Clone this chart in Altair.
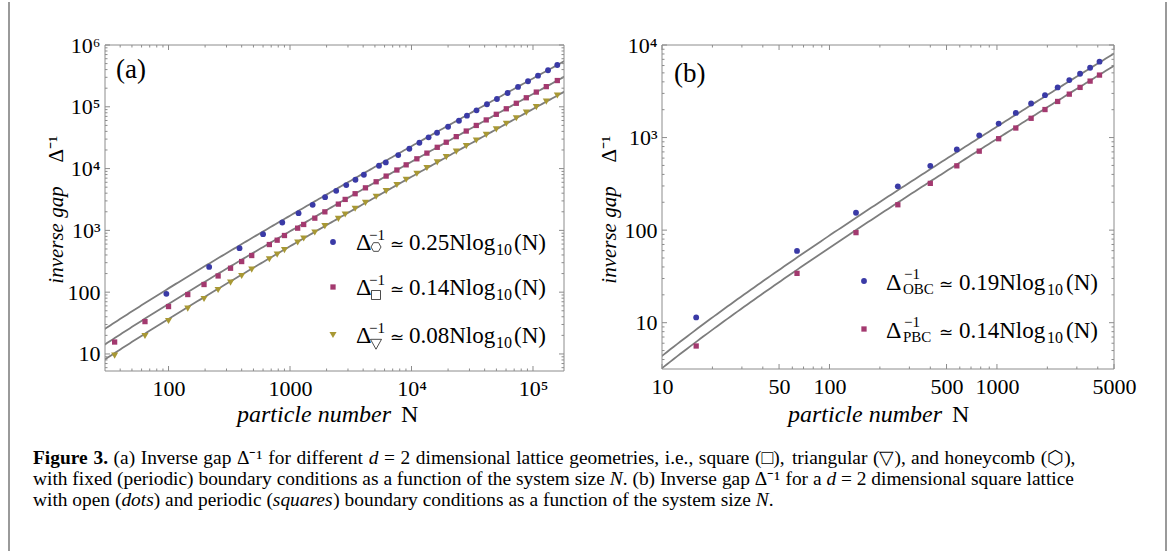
import altair as alt
import pandas as pd

FONT = "Liberation Serif"
FIT_GRAY = "#7d7d7d"
FRAME_GRAY = "#8c8c8c"
BORDER_GRAY = "#9a9a9a"
BLUE = "#3a3aa6"
MAGENTA = "#a3396f"
GOLD = "#a89834"

# ---------------- panel (a): d = 2 lattices, periodic boundaries ----------------
hex_N = [96, 216, 384, 600, 864, 1176, 1536, 1944, 2400, 2904, 3456, 4056, 5400,
         6144, 7776, 9600, 11616, 13824, 16224, 20000, 24576, 28600, 34300, 41800,
         50500, 61800, 75300, 91000, 110000, 133000, 158500]
hex_gap = [94, 256, 515, 867, 1343, 1900, 2590, 3450, 4365, 5400, 6600, 7950, 11100,
           12600, 16550, 20950, 26200, 32050, 38050, 47600, 59500, 71800, 87700, 109800,
           133800, 167300, 209600, 258800, 319000, 390000, 475000]

sq_N = [36, 64, 100, 144, 196, 256, 324, 400, 484, 676, 784, 900, 1156, 1296, 1600,
        1936, 2500, 2845, 3435, 4178, 5117, 6185, 7580, 9040, 11070, 13390, 16290,
        19320, 23360, 28230, 34140, 41230, 49890, 60310, 72900, 88100, 106500, 128700,
        158600]
sq_gap = [15.6, 33.4, 58.5, 91.5, 133, 183, 244, 313, 392, 590, 694, 826, 1086, 1246,
          1577, 1995, 2660, 3170, 3920, 4880, 6120, 7560, 9480, 11500, 14400, 17800,
          22100, 26700, 32900, 40500, 49900, 61300, 75600, 92900, 114000, 140000,
          173000, 212000, 266000]

tri_N = sq_N
tri_gap = [9.4, 19.5, 34.1, 54.2, 77.6, 108.6, 143, 183, 232, 341, 406, 478, 637, 739,
           925, 1170, 1535, 1810, 2240, 2790, 3500, 4320, 5420, 6590, 8250, 10200,
           12600, 15300, 18800, 23100, 28500, 35100, 43200, 53100, 65300, 80300, 98600,
           121000, 152000]

fit_a = [0.25, 0.14, 0.08]

# ---------------- panel (b): square lattice, open vs periodic ----------------
bc_N = [16, 64, 144, 256, 400, 576, 784, 1024, 1296, 1600, 1936, 2304, 2704, 3136,
        3600, 4096]
obc_gap = [11.4, 59.6, 154, 297, 495, 745, 1057, 1415, 1846, 2333, 2871, 3483, 4179,
           4890, 5683, 6602]
pbc_gap = [5.6, 34.1, 94, 188, 320, 495, 713, 972, 1268, 1615, 2008, 2455, 2945, 3483,
           4073, 4732]

fit_b = [0.19, 0.14]

# ---------------- axes ----------------
a_xdom, a_ydom = [30, 180000], [5.3, 1e6]
a_xticks = [100, 1000, 10000, 100000]
a_xlabels = ["100", "1000", "10⁴", "10⁵"]
a_yticks = [10, 100, 1000, 10000, 100000, 1000000]
a_ylabels = ["10", "100", "10³", "10⁴", "10⁵", "10⁶"]

b_xdom, b_ydom = [10, 5000], [3.16, 10000]
b_xticks = [10, 50, 100, 500, 1000, 5000]
b_xlabels = ["10", "50", "100", "500", "1000", "5000"]
b_yticks = [10, 100, 1000, 10000]
b_ylabels = ["10", "100", "10³", "10⁴"]

A_W, A_H = 459, 326
B_W, B_H = 452, 324

ONE = pd.DataFrame({"k": [0]})

HEX = "M1,0L0.5,0.866L-0.5,0.866L-1,0L-0.5,-0.866L0.5,-0.866Z"
BOX = "M-1,-1L1,-1L1,1L-1,1Z"
TRI = "M-1,-0.85L1,-0.85L0,0.95Z"


def label_expr(vals, labels):
    parts = [f"abs(datum.value - {v}) < {v * 1e-6} ? '{s}'" for v, s in zip(vals, labels)]
    return " : ".join(parts) + " : ''"


def minor_ticks(dom, majors):
    out = []
    for e in range(-1, 8):
        for m in range(1, 10):
            v = m * 10 ** e
            if dom[0] < v < dom[1] and all(abs(v - t) > 1e-9 * t for t in majors):
                out.append(v)
    return out


def log_scale(dom):
    return alt.Scale(type="log", domain=dom, nice=False)


def text(t, x, y, size, align="left", italic=False, angle=0, baseline="alphabetic",
         weight="normal", font=FONT):
    kw = dict(text=t, font=font, fontSize=size, align=align, baseline=baseline,
              color="black")
    if italic:
        kw["fontStyle"] = "italic"
    if angle:
        kw["angle"] = angle
    if weight != "normal":
        kw["fontWeight"] = weight
    return alt.Chart(ONE).mark_text(**kw).encode(x=alt.value(x), y=alt.value(y))


def glyph(path, x, y, size):
    return alt.Chart(ONE).mark_point(shape=path, filled=False, stroke="black",
                                     strokeWidth=0.7, size=size, opacity=1).encode(
        x=alt.value(x), y=alt.value(y))


def marker(shape, color, size, x, y):
    return alt.Chart(ONE).mark_point(shape=shape, filled=True, color=color, size=size,
                                     opacity=1).encode(x=alt.value(x), y=alt.value(y))


def build_panel(W, H, xdom, ydom, xt, xl, yt, yl, series, fits, seq, extra):
    xs, ys = log_scale(xdom), log_scale(ydom)
    common = dict(title=None, ticks=False, domain=False, grid=False, labelFont=FONT,
                  labelFontSize=22, labelColor="black", labelFlush=False,
                  labelOverlap=False)
    xax = alt.Axis(values=xt, labelExpr=label_expr(xt, xl), labelPadding=7, **common)
    yax = alt.Axis(values=yt, labelExpr=label_expr(yt, yl), labelPadding=5, **common)
    layers = []
    # fitted scaling curves c * N * ln N
    for c in fits:
        layers.append(
            alt.Chart(alt.sequence(seq[0], seq[1], 0.02, as_="t"))
            .transform_calculate(N="pow(10, datum.t)")
            .transform_calculate(gap=f"{c} * datum.N * log(datum.N)")
            .mark_line(color=FIT_GRAY, strokeWidth=1.8, clip=True)
            .encode(x=alt.X("N:Q", scale=xs, axis=xax),
                    y=alt.Y("gap:Q", scale=ys, axis=yax)))
    # numerical data
    for Ns, gaps, color, shape, size in series:
        df = pd.DataFrame({"N": Ns, "gap": gaps})
        layers.append(
            alt.Chart(df).mark_point(filled=True, shape=shape, size=size, color=color,
                                     opacity=1)
            .encode(x=alt.X("N:Q", scale=xs, axis=xax),
                    y=alt.Y("gap:Q", scale=ys, axis=yax)))
    # inward frame ticks on all four sides
    for vals, L in ((xt, 5), (minor_ticks(xdom, xt), 2.5)):
        d = pd.DataFrame({"v": vals})
        xe = alt.X("v:Q", scale=xs, axis=xax)
        layers.append(alt.Chart(d).mark_rule(color=FRAME_GRAY, strokeWidth=1)
                      .encode(x=xe, y=alt.value(H), y2=alt.value(H - L)))
        layers.append(alt.Chart(d).mark_rule(color=FRAME_GRAY, strokeWidth=1)
                      .encode(x=xe, y=alt.value(0), y2=alt.value(L)))
    for vals, L in ((yt, 5), (minor_ticks(ydom, yt), 2.5)):
        d = pd.DataFrame({"v": vals})
        ye = alt.Y("v:Q", scale=ys, axis=yax)
        layers.append(alt.Chart(d).mark_rule(color=FRAME_GRAY, strokeWidth=1)
                      .encode(y=ye, x=alt.value(0), x2=alt.value(L)))
        layers.append(alt.Chart(d).mark_rule(color=FRAME_GRAY, strokeWidth=1)
                      .encode(y=ye, x=alt.value(W), x2=alt.value(W - L)))
    # frame
    layers.append(alt.Chart(ONE).mark_rect(fillOpacity=0, stroke=FRAME_GRAY,
                                           strokeWidth=1)
                  .encode(x=alt.value(0), x2=alt.value(W), y=alt.value(0),
                          y2=alt.value(H)))
    layers.extend(extra)
    return alt.layer(*layers).properties(width=W, height=H)


def axis_titles(ybase, xright, xleft):
    return [
        text("inverse gap", ybase, 190, 21, align="center", italic=True, angle=270),
        text("Δ⁻¹", ybase, 104, 21, align="center", angle=270),
        text("particle number", xright, 377, 24, align="right", italic=True),
        text("N", xleft, 377, 24),
    ]


# ----- panel (a) annotations -----
a_extra = [text("(a)", 11, 33, 27)] + axis_titles(-42, 286, 296)
a_rows = [("circle", BLUE, 34, 197, HEX, 100, 202, "0.25"),
          ("square", MAGENTA, 28, 242, BOX, 81, 250, "0.14"),
          ("triangle-down", GOLD, 50, 290, TRI, 121, 299, "0.08")]
for shp, col, sz, my, sub, subsz, suby, coef in a_rows:
    b = my + 8
    a_extra += [marker(shp, col, sz, 228, my),
                text("Δ", 251, b, 24),
                text("−1", 264, b - 10, 15),
                glyph(sub, 271, suby, subsz),
                text("≃", 292, b, 17, align="center"),
                text(f"{coef}Nlog", 304, b, 23),
                text("10", 391, b + 5, 16),
                text("(N)", 409, b, 23)]

# ----- panel (b) annotations -----
b_extra = [text("(b)", 12, 37, 27)] + axis_titles(-46, 280, 290)
b_rows = [("circle", BLUE, 34, 236, "OBC", "0.19"),
          ("square", MAGENTA, 28, 284, "PBC", "0.14")]
for shp, col, sz, my, sub, coef in b_rows:
    b = my + 9
    b_extra += [marker(shp, col, sz, 202, my),
                text("Δ", 224, b, 24),
                text("−1", 242, b - 11, 15),
                text(sub, 241, b + 4, 15),
                text("≃", 284, b, 17, align="center"),
                text(f"{coef}Nlog", 297, b, 23),
                text("10", 385, b + 5, 16),
                text("(N)", 404, b, 23)]

panel_a = build_panel(
    A_W, A_H, a_xdom, a_ydom, a_xticks, a_xlabels, a_yticks, a_ylabels,
    [(hex_N, hex_gap, BLUE, "circle", 34),
     (sq_N, sq_gap, MAGENTA, "square", 28),
     (tri_N, tri_gap, GOLD, "triangle-down", 50)],
    fit_a, (1.40, 5.35), a_extra)

panel_b = build_panel(
    B_W, B_H, b_xdom, b_ydom, b_xticks, b_xlabels, b_yticks, b_ylabels,
    [(bc_N, obc_gap, BLUE, "circle", 34),
     (bc_N, pbc_gap, MAGENTA, "square", 28)],
    fit_b, (0.95, 3.75), b_extra)

# ---------------- caption ----------------
caption_lines = [
    "#Figure# #3.# (a) Inverse gap Δ⁻¹ for different *d* = 2 dimensional lattice "
    "geometries, i.e., square (□), triangular (▽), and honeycomb (⬡),",
    "with fixed (periodic) boundary conditions as a function of the system size *N*. "
    "(b) Inverse gap Δ⁻¹ for a *d* = 2 dimensional square lattice",
    "with open (*dots*) and periodic (*squares*) boundary conditions as a function of "
    "the system size *N*.",
]

REG = dict(zip("abcdefghijklmnopqrstuvwxyz",
               [444, 500, 444, 500, 444, 333, 500, 500, 278, 278, 500, 278, 778, 500,
                500, 500, 500, 333, 389, 278, 500, 500, 722, 500, 500, 444]))
REG.update(zip("ABCDEFGHIJKLMNOPQRSTUVWXYZ",
               [722, 667, 667, 722, 611, 556, 722, 722, 333, 389, 722, 611, 889, 722,
                722, 556, 722, 667, 556, 611, 722, 722, 944, 722, 722, 611]))
REG.update({" ": 250, "(": 333, ")": 333, ",": 250, ".": 250, "=": 564, "Δ": 612,
            "⁻": 420, "¹": 300, "□": 700, "▽": 760, "⬡": 800})
ITA = dict(zip("abcdefghijklmnopqrstuvwxyz",
               [500, 500, 444, 500, 444, 278, 500, 500, 278, 278, 444, 278, 722, 500,
                500, 500, 500, 389, 389, 278, 500, 444, 667, 444, 444, 389]))
ITA.update({"N": 667})
BLD = {"F": 611, "i": 278, "g": 500, "u": 556, "r": 444, "e": 444, "3": 500, ".": 250}
TABLES = {"r": REG, "i": ITA, "b": BLD}


def run_width(t, style):
    tab = TABLES[style]
    return sum(tab.get(ch, REG.get(ch, 500)) for ch in t) / 1000.0


def parse_word(w):
    runs, style, buf = [], "r", ""
    for ch in w:
        if ch in "*#":
            if buf:
                runs.append((buf, style))
                buf = ""
            style = ("i" if ch == "*" else "b") if style == "r" else "r"
        else:
            buf += ch
    if buf:
        runs.append((buf, style))
    return runs


CAP_LEFT, CAP_RIGHT = 32, 1073
CAP_BASE = [462, 483, 504]
ORIGIN_X, ORIGIN_Y = 104, 430

parsed = [[parse_word(w) for w in line.split(" ")] for line in caption_lines]
natural = [sum(run_width(t, s) for wd in line for t, s in wd) + 0.25 * (len(line) - 1)
           for line in parsed]
CAP_FS = (CAP_RIGHT - CAP_LEFT) / max(natural[:2])

cap_rows = []
for li, line in enumerate(parsed):
    widths = [sum(run_width(t, s) for t, s in wd) * CAP_FS for wd in line]
    if li < 2:
        gap = (CAP_RIGHT - CAP_LEFT - sum(widths)) / (len(line) - 1)
    else:
        gap = 0.25 * CAP_FS
    x = CAP_LEFT
    for wd, w in zip(line, widths):
        rx = x
        for t, s in wd:
            cap_rows.append({"x": rx - ORIGIN_X, "y": CAP_BASE[li] - ORIGIN_Y,
                             "text": t, "style": s})
            rx += run_width(t, s) * CAP_FS
        x += w + gap
cap_df = pd.DataFrame(cap_rows)

cx = alt.Scale(domain=[0, 400], range=[0, 400], nice=False, zero=False)
cy = alt.Scale(domain=[0, 100], range=[0, 100], nice=False, zero=False)
cap_layers = []
for style, extra in (("r", {}), ("i", {"fontStyle": "italic"}),
                     ("b", {"fontWeight": "bold"})):
    cap_layers.append(
        alt.Chart(cap_df[cap_df["style"] == style])
        .mark_text(align="left", baseline="alphabetic", font=FONT, fontSize=CAP_FS,
                   color="black", **extra)
        .encode(x=alt.X("x:Q", scale=cx, axis=None),
                y=alt.Y("y:Q", scale=cy, axis=None),
                text="text:N"))
# page border lines
for bx in (8 - ORIGIN_X, 1165 - ORIGIN_X):
    cap_layers.append(alt.Chart(ONE).mark_rule(color=BORDER_GRAY, strokeWidth=2)
                      .encode(x=alt.value(bx), y=alt.value(-ORIGIN_Y),
                              y2=alt.value(551 - ORIGIN_Y)))
caption = alt.layer(*cap_layers).properties(width=400, height=100)

chart = (alt.concat(panel_a, panel_b, caption, columns=2, bounds="flush",
                    spacing={"row": 61, "column": 98})
         .properties(padding={"left": 7, "top": 0, "right": 2, "bottom": 0},
                     background="white")
         .configure_view(stroke="transparent"))

chart.save("out.html", embed_options={"renderer": "svg", "actions": False})
